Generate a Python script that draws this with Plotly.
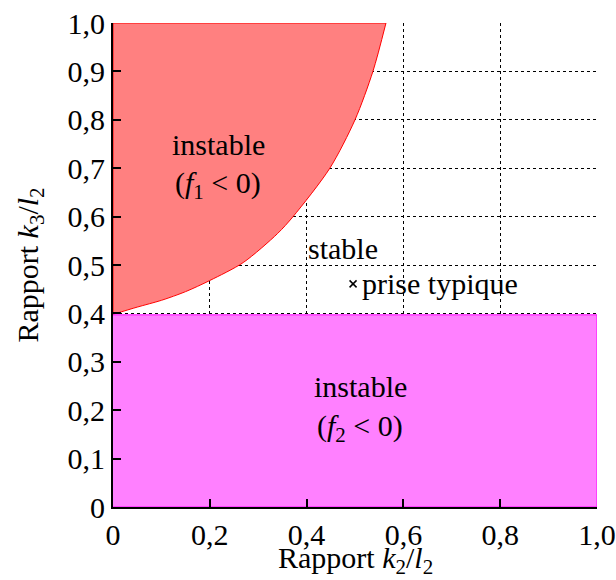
import plotly.graph_objects as go

# Stability boundary f1 = 0
k2_curve = [0.0, 0.05, 0.10, 0.15, 0.20, 0.269, 0.34, 0.372, 0.448, 0.500, 0.537, 0.564]
k3_curve = [0.398, 0.413, 0.427, 0.445, 0.468, 0.505, 0.565, 0.60, 0.70, 0.80, 0.90, 1.00]

# f2 < 0 region bound
k3_f2 = 0.397
k2_range = [0.0, 1.0]

# typical grip
typ_k2 = [0.496]
typ_k3 = [0.461]

x_ticks = [0, 0.2, 0.4, 0.6, 0.8, 1.0]
x_labels = ["0", "0,2", "0,4", "0,6", "0,8", "1,0"]
y_ticks = [0, 0.1, 0.2, 0.3, 0.4, 0.5, 0.6, 0.7, 0.8, 0.9, 1.0]
y_labels = ["0", "0,1", "0,2", "0,3", "0,4", "0,5", "0,6", "0,7", "0,8", "0,9", "1,0"]

FONT = "Liberation Serif"
FS = 30

fig = go.Figure()

# red region (f1 < 0): left/top edges, then the smoothed boundary filled to them
fig.add_trace(go.Scatter(
    x=[k2_curve[0], 0.0, k2_curve[-1]], y=[k3_curve[0], 1.0, 1.0],
    mode="lines", line=dict(color="#FF0000", width=1),
    hoverinfo="skip", showlegend=False))
fig.add_trace(go.Scatter(
    x=k2_curve, y=k3_curve, mode="lines", fill="tonexty",
    fillcolor="#FF8080",
    line=dict(color="#FF0000", width=1, shape="spline", smoothing=0.8),
    hoverinfo="skip", showlegend=False))

# magenta region (f2 < 0)
fig.add_trace(go.Scatter(
    x=[k2_range[0], k2_range[1], k2_range[1], k2_range[0]],
    y=[0, 0, k3_f2, k3_f2],
    mode="lines", fill="toself",
    fillcolor="#FF80FF", line=dict(color="#FF00FF", width=1),
    hoverinfo="skip", showlegend=False))

# typical point
fig.add_trace(go.Scatter(
    x=typ_k2, y=typ_k3, mode="markers",
    marker=dict(symbol="x-thin-open", size=7, color="black",
                line=dict(color="black", width=1.5)),
    showlegend=False, hoverinfo="skip"))

ann_font = dict(family=FONT, size=FS, color="black")
fig.add_annotation(x=0.217, y=0.748, text="instable", showarrow=False, font=ann_font)
fig.add_annotation(x=0.217, y=0.665, text="(<i>f</i><sub>1</sub> &lt; 0)", showarrow=False, font=ann_font)
fig.add_annotation(x=0.398, y=0.535, text="stable", showarrow=False, font=ann_font, xanchor="left")
fig.add_annotation(x=0.510, y=0.461, text="prise typique", showarrow=False, font=ann_font, xanchor="left")
fig.add_annotation(x=0.511, y=0.248, text="instable", showarrow=False, font=ann_font)
fig.add_annotation(x=0.511, y=0.163, text="(<i>f</i><sub>2</sub> &lt; 0)", showarrow=False, font=ann_font)

# x-axis title as annotation below tick labels
fig.add_annotation(xref="paper", yref="paper", x=0.5, y=-0.152, yanchor="bottom",
                   text="Rapport <i>k</i><sub>2</sub>/<i>l</i><sub>2</sub>",
                   showarrow=False, font=ann_font)

axis_common = dict(
    showgrid=True, gridcolor="black", griddash="dot", gridwidth=1,
    showline=True, linecolor="black", linewidth=2,
    ticks="inside", ticklen=8, tickcolor="black", tickwidth=1.5,
    zeroline=False, tickfont=dict(family=FONT, size=FS, color="black"),
)

fig.update_xaxes(range=[0, 1], tickvals=x_ticks, ticktext=x_labels, **axis_common)
fig.update_yaxes(range=[0, 1], tickvals=y_ticks, ticktext=y_labels,
                 title=dict(text="Rapport <i>k</i><sub>3</sub>/<i>l</i><sub>2</sub>",
                            font=dict(family=FONT, size=FS, color="black"), standoff=20),
                 **axis_common)

fig.update_layout(
    width=616, height=580,
    margin=dict(l=113, r=19, t=23, b=73, autoexpand=False),
    plot_bgcolor="white", paper_bgcolor="white",
    font=dict(family=FONT, color="black"),
)

fig.write_html("out.html")
